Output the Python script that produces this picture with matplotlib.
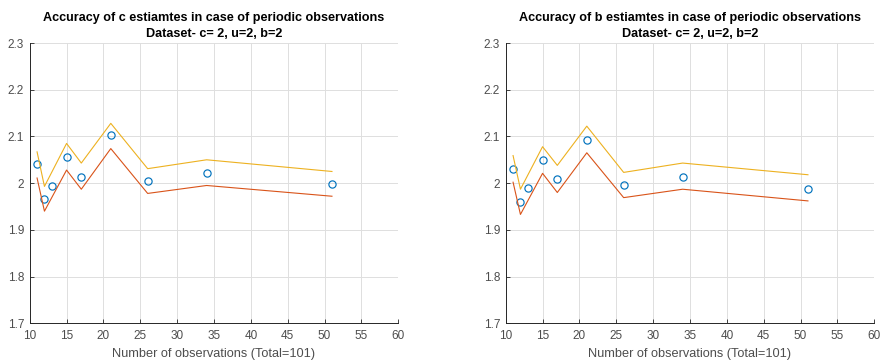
import matplotlib
matplotlib.use("Agg")
import matplotlib.pyplot as plt

plt.rcParams['font.family'] = ['Liberation Sans', 'DejaVu Sans']

# Observation counts
obs_points = [11, 12, 13, 15, 17, 21, 26, 34, 51]
obs_bounds = [11, 12, 15, 17, 21, 26, 34, 51]

# c estimates and their bounds
c_est = [2.040, 1.967, 1.993, 2.055, 2.014, 2.102, 2.004, 2.021, 1.998]
c_upper = [2.067, 1.993, 2.085, 2.043, 2.128, 2.031, 2.050, 2.025]
c_lower = [2.011, 1.940, 2.028, 1.987, 2.074, 1.978, 1.995, 1.972]

# b estimates and their bounds
b_est = [2.030, 1.960, 1.989, 2.050, 2.009, 2.093, 1.996, 2.014, 1.988]
b_upper = [2.059, 1.987, 2.078, 2.038, 2.122, 2.023, 2.043, 2.018]
b_lower = [2.002, 1.933, 2.021, 1.980, 2.065, 1.969, 1.987, 1.962]

titles = ["Accuracy of c estiamtes in case of periodic observations\nDataset- c= 2, u=2, b=2",
          "Accuracy of b estiamtes in case of periodic observations\nDataset- c= 2, u=2, b=2"]
xlabel = "Number of observations (Total=101)"
xticks = [10, 15, 20, 25, 30, 35, 40, 45, 50, 55, 60]
yticks = [1.7, 1.8, 1.9, 2.0, 2.1, 2.2, 2.3]
ytick_labels = ["1.7", "1.8", "1.9", "2", "2.1", "2.2", "2.3"]

BLUE = "#0072BD"
ORANGE = "#D95319"
YELLOW = "#EDB120"
AXC = "#262626"
TXC = "#4d4d4d"

W, H = 882, 364
fig = plt.figure(figsize=(W / 100, H / 100), dpi=100)

panels = [(29.7, c_est, c_upper, c_lower, titles[0]),
          (505.7, b_est, b_upper, b_lower, titles[1])]
ax_w = 368.6
ax_top, ax_bot = 43.0, 323.3

for x0, est, up, lo, title in panels:
    ax = fig.add_axes([x0 / W, (H - ax_bot) / H, ax_w / W, (ax_bot - ax_top) / H])
    ax.plot(obs_points, est, 'o', mfc='none', mec=BLUE, ms=5.2, mew=0.85, zorder=3)
    ax.plot(obs_bounds, up, '-', color=YELLOW, lw=0.8, zorder=3)
    ax.plot(obs_bounds, lo, '-', color=ORANGE, lw=0.8, zorder=3)
    ax.set_xlim(10, 60)
    ax.set_ylim(1.7, 2.3)
    ax.set_xticks(xticks)
    ax.set_yticks(yticks)
    ax.set_yticklabels(ytick_labels)
    ax.grid(True, color="#dedede", lw=0.7)
    ax.set_axisbelow(True)
    for s in ('top', 'right'):
        ax.spines[s].set_visible(False)
    for s in ('left', 'bottom'):
        ax.spines[s].set_color(AXC)
        ax.spines[s].set_linewidth(0.7)
    ax.tick_params(direction='in', length=3, width=0.6, colors=AXC,
                   labelsize=8.5, labelcolor=TXC)
    ax.tick_params(axis='x', pad=5)
    ax.tick_params(axis='y', pad=4)
    ax.set_xlabel(xlabel, fontsize=9.2, color=TXC, labelpad=4)
    ax.set_title(title, fontsize=9.1, fontweight='bold', color='black',
                 linespacing=1.5, pad=4)

fig.savefig("out.png", dpi=100)
